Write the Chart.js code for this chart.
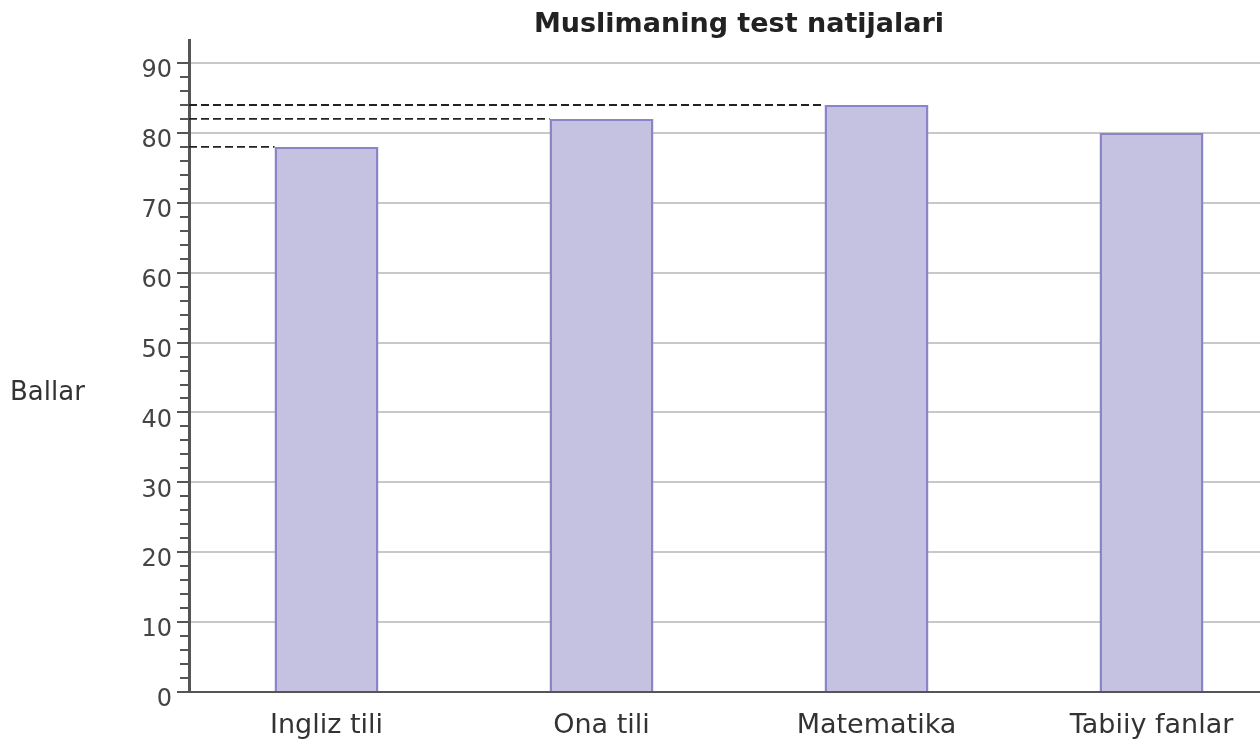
<!DOCTYPE html>
<html>
<head>
<meta charset="utf-8">
<script src="https://cdn.jsdelivr.net/npm/chart.js@4/dist/chart.umd.min.js"></script>
<style>
  html, body { margin: 0; padding: 0; background: #fff; overflow: hidden; }
  #wrap { width: 1260px; height: 740px; overflow: hidden; }
  canvas { display: block; }
</style>
</head>
<body>
<div id="wrap"><canvas id="c" width="1290" height="740"></canvas></div>
<script>
// ---- data ----
const titleText = 'Muslimaning test natijalari';
const yAxisLabel = 'Ballar';
const categories = ['Ingliz tili', 'Ona tili', 'Matematika', 'Tabiiy fanlar'];
const scores = [78, 82, 84, 80];
const yTicks = [0, 10, 20, 30, 40, 50, 60, 70, 80, 90];
const yMin = 0;
const yMax = 93.3;
const minorStep = 2;
const minorMax = 88;
const guideCategories = ['Ingliz tili', 'Ona tili', 'Matematika'];

const FONT = "'DejaVu Sans', 'Verdana', sans-serif";

const extras = {
  id: 'extras',
  afterDatasetsDraw(chart) {
    const ctx = chart.ctx;
    const y = chart.scales.y;
    const area = chart.chartArea;
    const meta = chart.getDatasetMeta(0);
    // dashed guide lines from the axis to each bar top
    ctx.save();
    ctx.strokeStyle = '#222';
    ctx.lineWidth = 1.8;
    ctx.setLineDash([8, 4]);
    categories.forEach((c, i) => {
      if (!guideCategories.includes(c)) return;
      const bar = meta.data[i];
      const py = y.getPixelForValue(scores[i]);
      ctx.beginPath();
      ctx.moveTo(area.left, py);
      ctx.lineTo(bar.x - bar.width / 2, py);
      ctx.stroke();
    });
    ctx.restore();
  },
  afterDraw(chart) {
    const ctx = chart.ctx;
    const y = chart.scales.y;
    const area = chart.chartArea;
    // minor tick marks
    ctx.save();
    ctx.strokeStyle = '#555';
    ctx.lineWidth = 2;
    for (let v = yMin + minorStep; v <= minorMax; v += minorStep) {
      if (v % 10 === 0) continue;
      const py = Math.round(y.getPixelForValue(v));
      ctx.beginPath();
      ctx.moveTo(area.left - 9, py);
      ctx.lineTo(area.left, py);
      ctx.stroke();
    }
    ctx.restore();
    // horizontal y-axis title
    ctx.save();
    ctx.font = '26px ' + FONT;
    ctx.fillStyle = '#333';
    ctx.textAlign = 'left';
    ctx.textBaseline = 'middle';
    ctx.fillText(yAxisLabel, 10, 393);
    ctx.restore();
  }
};

new Chart(document.getElementById('c'), {
  type: 'bar',
  data: {
    labels: categories,
    datasets: [{
      data: scores,
      backgroundColor: 'rgb(196,194,224)',
      borderColor: 'rgb(138,133,200)',
      borderWidth: 2.5,
      barPercentage: 0.378,
      categoryPercentage: 1.0
    }]
  },
  options: {
    responsive: false,
    animation: false,
    devicePixelRatio: 1,
    layout: { padding: { left: 0, right: 1, top: 0, bottom: 0 } },
    plugins: {
      legend: { display: false },
      tooltip: { enabled: false },
      title: {
        display: true,
        text: titleText,
        fullSize: false,
        color: '#222',
        font: { family: FONT, size: 27, weight: 'bold', lineHeight: 1 },
        padding: { top: 11, bottom: 2 }
      }
    },
    scales: {
      x: {
        grid: { display: false, drawTicks: false },
        border: { display: true, color: '#555', width: 2 },
        ticks: { color: '#333', font: { family: FONT, size: 27 }, padding: 18 },
        afterFit: s => { s.height = 48; }
      },
      y: {
        min: yMin,
        max: yMax,
        afterBuildTicks: s => { s.ticks = yTicks.map(v => ({ value: v })); },
        afterFit: s => { s.width = 189; },
        border: { display: true, color: '#555', width: 3 },
        grid: { color: '#c8c8c8', lineWidth: 2, tickLength: 12, tickColor: '#555', tickWidth: 2 },
        ticks: { color: '#444', font: { family: FONT, size: 24 }, padding: 5, labelOffset: 8 }
      }
    }
  },
  plugins: [extras]
});
</script>
</body>
</html>
